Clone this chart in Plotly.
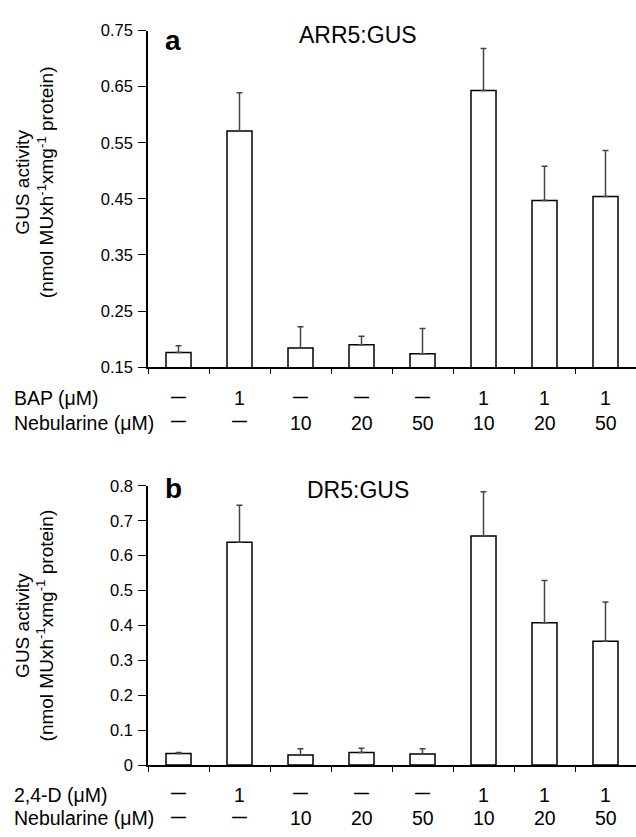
import plotly.graph_objects as go

# ---- data ----
conditions = list(range(8))
bap_row = ["–", "1", "–", "–", "–", "1", "1", "1"]
neb_row = ["–", "–", "10", "20", "50", "10", "20", "50"]
d24_row = ["–", "1", "–", "–", "–", "1", "1", "1"]

arr5_vals = [0.176, 0.571, 0.184, 0.190, 0.174, 0.643, 0.447, 0.454]
arr5_err = [0.012, 0.068, 0.038, 0.015, 0.045, 0.075, 0.061, 0.082]
dr5_vals = [0.033, 0.638, 0.029, 0.036, 0.032, 0.656, 0.408, 0.355]
dr5_err = [0.003, 0.106, 0.018, 0.012, 0.015, 0.127, 0.121, 0.112]

a_ticks = [0.15, 0.25, 0.35, 0.45, 0.55, 0.65, 0.75]
b_ticks = [0, 0.1, 0.2, 0.3, 0.4, 0.5, 0.6, 0.7, 0.8]
b_ticktext = ["0", "0.1", "0.2", "0.3", "0.4", "0.5", "0.6", "0.7", "0.8"]

W, H = 636, 837
FONT = "Arial, Liberation Sans, sans-serif"

def px_x(p):
    return p / W

def px_y(p):
    return 1 - p / H

fig = go.Figure()

def add_bars(vals, errs, xa, ya):
    fig.add_trace(go.Bar(
        x=conditions, y=vals, xaxis=xa, yaxis=ya, width=0.41,
        marker=dict(color="white", line=dict(color="black", width=1.5)),
        error_y=dict(type="data", symmetric=False, array=errs,
                     arrayminus=[0] * len(errs), color="#444444",
                     thickness=1.5, width=3),
        showlegend=False,
    ))

add_bars(arr5_vals, arr5_err, "x", "y")
add_bars(dr5_vals, dr5_err, "x2", "y2")

xcommon = dict(range=[-0.5, 7.5], tickvals=[i - 0.5 for i in range(8)],
               showticklabels=False, ticks="outside", ticklen=5, tickwidth=1.2,
               tickcolor="black", showline=True, linecolor="black",
               linewidth=1.5, showgrid=False, zeroline=False, fixedrange=True)
ycommon = dict(ticks="outside", ticklen=8, tickwidth=1.2, tickcolor="black",
               showline=True, linecolor="black", linewidth=1.5,
               showgrid=False, zeroline=False, ticklabelstandoff=2,
               tickfont=dict(family=FONT, size=16.5, color="black"))

fig.update_layout(
    width=W, height=H,
    margin=dict(l=0, r=0, t=0, b=0),
    paper_bgcolor="white", plot_bgcolor="white",
    bargap=0.5,
    xaxis=dict(domain=[px_x(148), 1], anchor="y", **xcommon),
    yaxis=dict(domain=[px_y(366), px_y(22)], anchor="x", range=[0.15, 0.75],
               tickvals=a_ticks, ticktext=[f"{v:.2f}" for v in a_ticks], **ycommon),
    xaxis2=dict(domain=[px_x(148), 1], anchor="y2", **xcommon),
    yaxis2=dict(domain=[px_y(772.7), px_y(487.3)], anchor="x2", range=[0, 0.8],
                tickvals=b_ticks, ticktext=b_ticktext, **ycommon),
)

ann = []
row_font = dict(family=FONT, size=19.5, color="black")
dash_font = dict(family=FONT, size=15, color="black")

def add_rows(xref, rows, ys):
    for (label, vals), y in zip(rows, ys):
        ann.append(dict(xref="paper", yref="paper", x=px_x(12), y=px_y(y),
                        xanchor="left", yanchor="middle", text=label,
                        showarrow=False, font=row_font))
        for i, v in enumerate(vals):
            is_dash = v == "–"
            ann.append(dict(xref=xref, yref="paper", x=i,
                            y=px_y(y - 2 if is_dash else y),
                            xanchor="center", yanchor="middle",
                            text="<b>—</b>" if is_dash else v,
                            showarrow=False,
                            font=dash_font if is_dash else row_font))

add_rows("x", [("BAP (μM)", bap_row), ("Nebularine (μM)", neb_row)], [398, 423])
add_rows("x2", [("2,4-D (μM)", d24_row), ("Nebularine (μM)", neb_row)], [803, 827])

ytitle = "GUS activity<br>(nmol MUxh<sup>-1</sup>xmg<sup>-1</sup> protein)"
for yc in [177, 630]:
    ann.append(dict(xref="paper", yref="paper", x=px_x(35), y=px_y(yc),
                    xanchor="center", yanchor="middle", text=ytitle,
                    textangle=-90, showarrow=False,
                    font=dict(family=FONT, size=19, color="black")))

# panel letters and titles
ann.append(dict(xref="paper", yref="paper", x=px_x(163), y=px_y(32),
                xanchor="left", yanchor="middle", text="<b>a</b>",
                showarrow=False, font=dict(family=FONT, size=28, color="black")))
ann.append(dict(xref="paper", yref="paper", x=px_x(358), y=px_y(27),
                xanchor="center", yanchor="middle", text="ARR5:GUS",
                showarrow=False, font=dict(family=FONT, size=23, color="black")))
ann.append(dict(xref="paper", yref="paper", x=px_x(163), y=px_y(490),
                xanchor="left", yanchor="middle", text="<b>b</b>",
                showarrow=False, font=dict(family=FONT, size=28, color="black")))
ann.append(dict(xref="paper", yref="paper", x=px_x(358), y=px_y(492),
                xanchor="center", yanchor="middle", text="DR5:GUS",
                showarrow=False, font=dict(family=FONT, size=23, color="black")))

fig.update_layout(annotations=ann)
fig.write_html("out.html")
